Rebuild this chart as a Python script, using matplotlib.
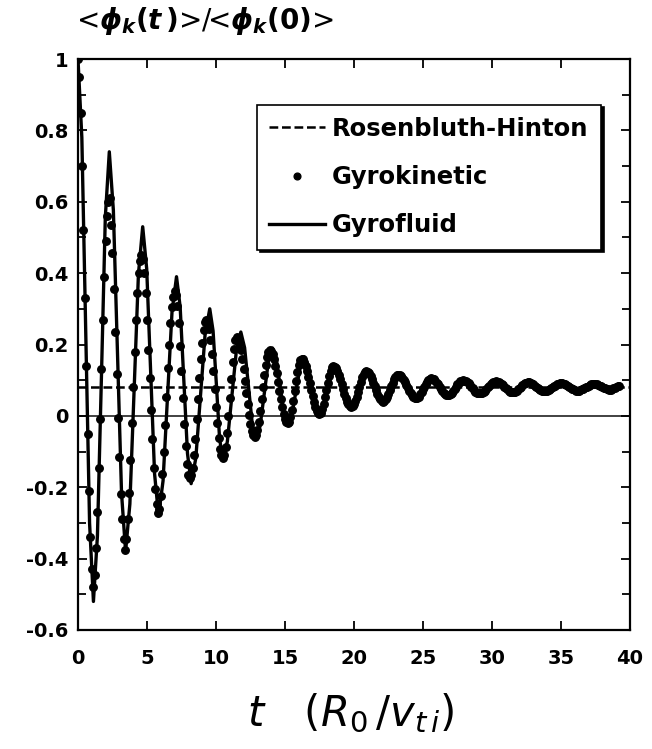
import numpy as np
from matplotlib import pyplot as plt

plt.rcParams['font.family'] = ['DejaVu Sans']
plt.rcParams['mathtext.fontset'] = 'custom'
plt.rcParams['mathtext.rm'] = 'DejaVu Sans:bold'
plt.rcParams['mathtext.it'] = 'DejaVu Sans:italic:bold'

# Rosenbluth-Hinton residual level
rh_level = 0.08

# gyrokinetic points, one every gk_dt (t = 0, 0.1, 0.2, ...)
gk_dt = 0.1
gk_phi = [
    1.0,
    .95, .85, .70, .52, .33, .14, -.05, -.21, -.34, -.43, -.48,
    -.445, -.37, -.27, -.147, -.01, .13, .27, .39, .49, .56, .60, .61,
    .535, .456, .356, .236, .118, -.006, -.116, -.22, -.29, -.345, -.375,
    -.345, -.29, -.215, -.125, -.02, .08, .18, .27, .345, .40, .435, .45,
    .44, .40, .345, .27, .185, .105, .017, -.065, -.147, -.205, -.247, -.272,
    -.262, -.225, -.162, -.1, -.025, .054, .134, .2, .26, .306, .334, .35,
    .339, .309, .259, .197, .125, .050, -.022, -.084, -.134, -.165, -.175,
    -.167, -.145, -.110, -.064, -.010, .048, .105, .159, .205, .240, .262, .27,
    .263, .244, .213, .173, .126, .076, .026, -.021, -.061, -.092, -.111, -.118,
    -.110, -.086, -.048, -.001, .051, .103, .150, .188, .212, .22,
    .216, .204, .185, .160, .130, .098, .064, .032, .002, -.023, -.042, -.054, -.058,
    -.053, -.039, -.016, .013, .046, .081, .114, .143, .166, .180, .185,
    .182, .173, .159, .141, .119, .095, .070, .046, .024, .006, -.008, -.017, -.02,
    -.016, -.003, .017, .042, .070, .098, .123, .143, .156, .16,
    .158, .151, .141, .127, .110, .092, .073, .055, .038, .024, .014, .007, .005,
    .008, .018, .033, .052, .073, .093, .112, .127, .137, .14,
    .138, .133, .126, .115, .103, .089, .076, .062, .050, .039, .032, .027, .025,
    .027, .033, .042, .054, .068, .082, .096, .108, .117, .123, .125,
    .124, .119, .113, .104, .093, .083, .072, .061, .052, .046, .041, .04,
    .042, .046, .053, .062, .072, .083, .093, .102, .109, .114, .115,
    .114, .111, .107, .101, .094, .086, .079, .071, .064, .058, .054, .051, .05,
    .051, .054, .060, .066, .074, .081, .089, .095, .101, .104, .105,
    .104, .102, .098, .093, .088, .082, .075, .070, .065, .061, .059, .058,
    .059, .061, .065, .070, .076, .082, .088, .093, .097, .099, .1,
    .099, .098, .095, .091, .086, .082, .077, .072, .068, .065, .064, .063,
    .064, .065, .068, .071, .076, .080, .084, .089, .092, .095, .096, .097,
    .096, .095, .092, .089, .086, .082, .077, .074, .070, .068, .067, .066,
    .067, .068, .071, .074, .078, .082, .086, .089, .092, .093, .094,
    .094, .092, .090, .088, .085, .082, .078, .075, .073, .071, .069, .069,
    .069, .070, .072, .075, .077, .080, .083, .085, .088, .090, .091, .091,
    .091, .090, .088, .086, .084, .081, .078, .076, .074, .072, .071, .071,
    .071, .072, .074, .076, .078, .080, .082, .084, .086, .088, .089, .089,
    .089, .088, .086, .085, .083, .081, .079, .077, .075, .074, .073, .073,
    .075, .077, .079, .081, .083, .084,
]
gk_t = gk_dt * np.arange(len(gk_phi))

# gyrofluid curve
gf_t = [
    0, .28, .56, .84, 1.12, 1.41, 1.70, 1.98, 2.27, 2.565, 2.86, 3.155,
    3.45, 3.76, 4.07, 4.38, 4.69, 4.98, 5.265, 5.55, 5.84, 6.165, 6.49, 6.815,
    7.14, 7.405, 7.67, 7.935, 8.2, 8.54, 8.875, 9.21, 9.55, 9.79, 10.03, 10.26,
    10.5, 10.825, 11.15, 11.475, 11.8, 12.075, 12.35, 12.625, 12.9, 13.2, 13.5, 13.8,
    14.1, 14.375, 14.65, 14.925, 15.2, 15.5, 15.8, 16.1, 16.4, 16.675, 16.95, 17.225,
    17.5, 17.8, 18.1, 18.4, 18.7, 18.975, 19.25, 19.525, 19.8, 20.1, 20.4, 20.7,
    21.0, 21.3, 21.6, 21.9, 22.2, 22.5, 22.8, 23.1, 23.4, 23.7, 24.0, 24.3,
    24.6, 24.875, 25.15, 25.425, 25.7, 26.0, 26.3, 26.6, 26.9, 27.175, 27.45, 27.725,
    28.0, 28.3, 28.6, 28.9, 29.2, 29.5, 29.8, 30.1, 30.4, 30.7, 31.0, 31.3,
    31.6, 31.9, 32.2, 32.5, 32.8, 33.075, 33.35, 33.625, 33.9, 34.2, 34.5, 34.8,
    35.1, 35.4, 35.7, 36.0, 36.3, 36.6, 36.9, 37.2, 37.5, 37.8, 38.1, 38.4,
    38.7, 39.3,
]
gf_phi = [
    1.0, .78, .24, -.30, -.52, -.336, .11, .556, .74, .576, .18, -.216,
    -.38, -.247, .075, .397, .53, .412, .125, -.162, -.28, -.182, .055, .292,
    .39, .305, .10, -.105, -.19, -.118, .055, .228, .30, .238, .088, -.063,
    -.125, -.072, .055, .182, .235, .191, .085, -.021, -.065, -.028, .063, .153,
    .19, .159, .083, .006, -.025, .003, .07, .137, .165, .142, .085, .028,
    .005, .025, .074, .122, .142, .125, .084, .042, .025, .04, .077, .113,
    .128, .115, .083, .051, .038, .05, .078, .106, .118, .108, .083, .058,
    .048, .057, .079, .101, .11, .102, .083, .064, .056, .063, .08, .097,
    .104, .098, .083, .067, .061, .067, .08, .093, .099, .094, .082, .07,
    .065, .07, .081, .091, .096, .092, .082, .072, .068, .072, .081, .089,
    .093, .09, .082, .073, .07, .073, .08, .087, .09, .087, .081, .075,
    .072, .08,
]

xticks = np.arange(0, 41, 5)
yticks = [-0.6, -0.4, -0.2, 0, 0.2, 0.4, 0.6, 0.8, 1]
yticklabels = ['-0.6', '-0.4', '-0.2', '0', '0.2', '0.4', '0.6', '0.8', '1']

fig = plt.figure(figsize=(6.52, 7.49), dpi=100)
ax = fig.add_axes([0.1196, 0.1589, 0.8466, 0.7623])

ax.axhline(0, color='#333333', lw=1.3, zorder=1)
ax.axhline(rh_level, color='black', lw=1.8, ls=(0, (3.5, 1.5)), zorder=2,
           label='Rosenbluth-Hinton')
ax.plot(gk_t, gk_phi, 'o', color='black', ms=5.4, zorder=3, label='Gyrokinetic')
ax.plot(gf_t, gf_phi, '-', color='black', lw=2.4, zorder=4, label='Gyrofluid')

ax.set_xlim(0, 40)
ax.set_ylim(-0.6, 1)
ax.set_xticks(xticks)
ax.set_xticklabels([str(v) for v in xticks])
ax.set_yticks(yticks)
ax.set_yticklabels(yticklabels)
ax.set_yticks(np.arange(-0.5, 1.0, 0.2), minor=True)
ax.tick_params(which='both', direction='in', top=True, right=True, width=1.3)
ax.tick_params(which='major', length=6.5, labelsize=14)
ax.tick_params(which='minor', length=5.5)
ax.tick_params(axis='x', pad=14)
ax.tick_params(axis='y', pad=7)
for lab in ax.get_xticklabels() + ax.get_yticklabels():
    lab.set_fontweight('bold')
for sp in ax.spines.values():
    sp.set_linewidth(1.6)

leg = ax.legend(loc='upper left', bbox_to_anchor=(0.324, 0.92),
                prop={'weight': 'bold', 'size': 17.5}, frameon=True, fancybox=False,
                edgecolor='black', framealpha=1, handlelength=2.3,
                handletextpad=0.3, labelspacing=1.0, borderpad=0.5,
                borderaxespad=0, shadow={'color': 'black', 'alpha': 1},
                markerscale=0.9)
leg.get_frame().set_linewidth(1.2)

fig.text(0.117, 0.972, r'<$\phi_k(t\,)$>/<$\phi_k(0)$>', fontsize=20,
         ha='left', va='center')
xl = fig.text(0.538, 0.047, r'$t\ \ \ (R_0\,/v_{t\,i})$', fontsize=30,
              ha='center', va='center')
xl.set_math_fontfamily('dejavusans')

fig.savefig('out.png', dpi=100)
